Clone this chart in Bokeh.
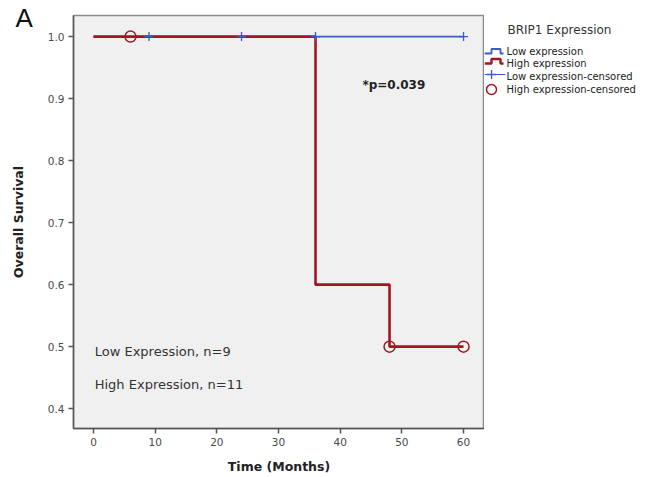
from bokeh.plotting import figure
from bokeh.layouts import row
from bokeh.models import (Range1d, FixedTicker, PrintfTickFormatter, Label, Title)
from bokeh.core.properties import value
from bokeh.embed import file_html
from bokeh.resources import INLINE

# Data
low_time = [0, 60]
low_surv = [1.0, 1.0]
high_time = [0, 36, 48, 60]
high_surv = [1.0, 0.6, 0.5, 0.5]
low_cens_time = [9, 24, 36, 60]
low_cens_surv = [1.0, 1.0, 1.0, 1.0]
high_cens_time = [6, 48, 60]
high_cens_surv = [1.0, 0.5, 0.5]
x_ticks = [0, 10, 20, 30, 40, 50, 60]
y_ticks = [0.4, 0.5, 0.6, 0.7, 0.8, 0.9, 1.0]
legend_title = "BRIP1 Expression"
legend_labels = ["Low expression", "High expression", "Low expression-censored", "High expression-censored"]

BLUE = "#3a5cc4"
RED = "#a3161f"
FONT = "DejaVu Sans"

p = figure(width=484, height=477, output_backend="svg", toolbar_location=None,
           x_range=Range1d(-3.24, 63.4), y_range=Range1d(0.368, 1.034),
           min_border_left=73, min_border_top=15, min_border_bottom=49, min_border_right=0)
p.background_fill_color = "#f0f0f0"
p.border_fill_color = "white"
p.outline_line_color = "#8a8a8a"
p.outline_line_width = 1.5
p.grid.visible = False

for ax in (p.xaxis[0], p.yaxis[0]):
    ax.axis_line_color = "#555555"
    ax.axis_line_width = 1.5
    ax.major_tick_line_color = "#555555"
    ax.major_tick_line_width = 1.5
    ax.major_tick_out = 5
    ax.major_tick_in = 0
    ax.minor_tick_line_color = None
    ax.major_label_text_font = FONT
    ax.major_label_text_font_size = "10.5px"
    ax.major_label_text_color = "#4a4a4a"
    ax.axis_label_text_font = FONT
    ax.axis_label_text_font_style = "bold"
    ax.axis_label_text_font_size = "12.5px"
    ax.axis_label_text_color = "#222222"
    ax.major_label_standoff = 4

p.xaxis.ticker = FixedTicker(ticks=x_ticks)
p.yaxis.ticker = FixedTicker(ticks=y_ticks)
p.yaxis.formatter = PrintfTickFormatter(format="%.1f")
p.xaxis.axis_label = "Time (Months)"
p.yaxis.axis_label = "Overall Survival"
p.xaxis.axis_label_standoff = 10
p.yaxis.axis_label_standoff = 19

p.step(low_time, low_surv, mode="after", line_color=BLUE, line_width=1.8)
p.step(high_time, high_surv, mode="after", line_color=RED, line_width=2.6)
p.scatter(low_cens_time, low_cens_surv, marker="cross", size=9, line_color=BLUE, line_width=1.3)
p.scatter(high_cens_time, high_cens_surv, marker="circle", size=11, fill_color=None,
          line_color=RED, line_width=1.5)

p.add_layout(Label(x=43.6, y=0.922, text="*p=0.039", text_font=FONT, text_font_style="bold",
                   text_font_size="12px", text_color="#222222", text_baseline="middle"))
p.add_layout(Label(x=0.2, y=0.492, text="Low Expression, n=9", text_font=FONT,
                   text_font_size="13px", text_color="#333333", text_baseline="middle"))
p.add_layout(Label(x=0.2, y=0.439, text="High Expression, n=11", text_font=FONT,
                   text_font_size="13px", text_color="#333333", text_baseline="middle"))

t = Title(text="A", align="left", text_font="Liberation Sans", text_font_size="26px",
          text_font_style="normal", text_color="#111111", offset=-58, standoff=-34)
p.add_layout(t, "above")

# Legend panel: its frame is aligned with the main frame (page y 15..428)
p2 = figure(width=165, height=477, output_backend="svg", toolbar_location=None,
            x_range=Range1d(0, 165), y_range=Range1d(428, 15),
            x_axis_location=None, y_axis_location=None,
            min_border_left=0, min_border_right=0, min_border_top=15, min_border_bottom=49)
p2.outline_line_color = None
p2.grid.visible = False
p2.background_fill_color = "white"
p2.border_fill_color = "white"

rows_y = [51, 63, 76, 89]
# step icons
p2.line([0, 7, 7, 16, 16, 19], [53, 53, 48.5, 48.5, 53, 53], line_color=BLUE, line_width=1.8)
p2.line([0, 7, 7, 16, 16, 19], [63, 63, 58.5, 58.5, 63, 63], line_color=RED, line_width=2.4)
# censored icons
p2.line([0, 21], [74, 74], line_color=BLUE, line_width=1.2)
p2.scatter([7], [74], marker="cross", size=9, line_color=BLUE, line_width=1.3)
p2.scatter([7], [89], marker="circle", size=10, fill_color=None, line_color=RED, line_width=1.5)
p2.text([22] * 4, rows_y, text=legend_labels, text_font=value(FONT), text_font_size="10px",
        text_color="#222222", text_baseline="middle")
p2.text([23], [29], text=[legend_title], text_font=value(FONT), text_font_size="12px",
        text_color="#333333", text_baseline="middle")

layout = row(p, p2, spacing=0)
open("out.html", "w").write(file_html(layout, INLINE))
